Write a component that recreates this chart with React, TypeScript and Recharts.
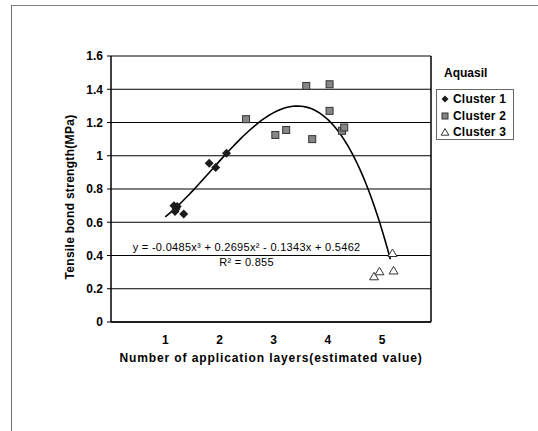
import React from 'react';
import { ScatterChart, Scatter, XAxis, YAxis, CartesianGrid, ReferenceLine, ReferenceDot, Label } from 'recharts';

// Tensile bond strength by number of application layers, three clusters
const cluster1 = [
  { x: 1.16, y: 0.70 },
  { x: 1.18, y: 0.665 },
  { x: 1.20, y: 0.68 },
  { x: 1.22, y: 0.695 },
  { x: 1.34, y: 0.65 },
  { x: 1.81, y: 0.955 },
  { x: 1.93, y: 0.93 },
  { x: 2.13, y: 1.015 },
];

const cluster2 = [
  { x: 2.49, y: 1.22 },
  { x: 3.03, y: 1.125 },
  { x: 3.23, y: 1.155 },
  { x: 3.60, y: 1.42 },
  { x: 3.71, y: 1.10 },
  { x: 4.03, y: 1.43 },
  { x: 4.03, y: 1.27 },
  { x: 4.26, y: 1.15 },
  { x: 4.30, y: 1.17 },
];

const cluster3 = [
  { x: 4.85, y: 0.275 },
  { x: 4.95, y: 0.305 },
  { x: 5.19, y: 0.415 },
  { x: 5.21, y: 0.31 },
];

// cubic fit: x^3, x^2, x, constant
const trendCoefficients = [-0.0485, 0.2695, -0.1343, 0.5462];
const trendRange = [1.0, 5.15];
const equationText = 'y = -0.0485x³ + 0.2695x² - 0.1343x + 0.5462';
const r2Text = 'R² = 0.855';

const xTicks = [1, 2, 3, 4, 5];
const yTicks = [0, 0.2, 0.4, 0.6, 0.8, 1, 1.2, 1.4, 1.6];

const legendItems = ['Cluster 1', 'Cluster 2', 'Cluster 3'];

const trendData: { x: number; y: number }[] = [];
for (let i = 0; ; i++) {
  const x = Math.min(trendRange[0] + i * 0.05, trendRange[1]);
  const [a, b, c, d] = trendCoefficients;
  trendData.push({ x, y: a * x * x * x + b * x * x + c * x + d });
  if (x >= trendRange[1]) break;
}

const font = '"Liberation Sans", Arial, sans-serif';

const Diamond = ({ cx, cy }: any) => (
  <polygon points={`${cx},${cy - 4.5} ${cx + 4.5},${cy} ${cx},${cy + 4.5} ${cx - 4.5},${cy}`} fill="#1c1c1c" />
);
const Square = ({ cx, cy }: any) => (
  <rect x={cx - 3.5} y={cy - 3.5} width={7} height={7} fill="#868686" stroke="#333" strokeWidth={1} />
);
const Triangle = ({ cx, cy }: any) => (
  <polygon points={`${cx},${cy - 4} ${cx + 4.5},${cy + 3.5} ${cx - 4.5},${cy + 3.5}`} fill="#fff" stroke="#333" strokeWidth={1} />
);
const NoDot = () => null;

const legendMarks = [
  <polygon key="d" points="5,1.5 8.5,5 5,8.5 1.5,5" fill="#1c1c1c" />,
  <rect key="s" x={2} y={2} width={6} height={6} fill="#868686" stroke="#333" />,
  <polygon key="t" points="5,1.5 8.8,8.2 1.2,8.2" fill="#fff" stroke="#333" />,
];

const App: React.FC = () => {
  return (
    <div style={{ position: 'absolute', left: 0, top: 0, width: 538, height: 431, background: '#fff', fontFamily: font }}>
      <div style={{ position: 'absolute', left: 11, top: 5, right: 0, bottom: 0, borderTop: '1px solid #808080', borderLeft: '1px solid #707070' }} />
      <ScatterChart width={538} height={431} margin={{ top: 56, right: 107, bottom: 64, left: 51 }}>
        <CartesianGrid vertical={false} stroke="#000" strokeOpacity={1} />
        <XAxis
          type="number"
          dataKey="x"
          domain={[0, 5.9]}
          ticks={xTicks}
          interval={0}
          height={45}
          tickLine={false}
          tickSize={4}
          tickMargin={9}
          axisLine={{ stroke: '#000', strokeWidth: 1.5 }}
          tick={{ fill: '#000', fontSize: 12, fontWeight: 'bold', fontFamily: font }}
        >
          <Label
            value="Number of application layers(estimated value)"
            position="insideBottom"
            offset={5}
            style={{ fill: '#000', fontSize: 12, fontWeight: 'bold', fontFamily: font, letterSpacing: 0.9 }}
          />
        </XAxis>
        <YAxis
          type="number"
          dataKey="y"
          domain={[0, 1.6]}
          ticks={yTicks}
          interval={0}
          width={60}
          tickSize={4}
          tickMargin={4}
          axisLine={{ stroke: '#000', strokeWidth: 1.5 }}
          tickLine={{ stroke: '#000' }}
          tick={{ fill: '#000', fontSize: 12, fontWeight: 'bold', fontFamily: font }}
        >
          <Label
            content={({ viewBox }: any) => {
              const cx = viewBox.x + 19;
              const cy = viewBox.y + viewBox.height / 2 + 8;
              return (
                <text
                  x={cx}
                  y={cy}
                  transform={`rotate(-90 ${cx} ${cy})`}
                  textAnchor="middle"
                  dominantBaseline="central"
                  fill="#000"
                  fontSize={12}
                  fontWeight="bold"
                  fontFamily={font}
                  letterSpacing={0.3}
                >
                  Tensile bond strength(MPa)
                </text>
              );
            }}
          />
        </YAxis>
        <ReferenceLine x={5.9} stroke="#000" strokeWidth={1.5} />
        <Scatter data={trendData} line={{ stroke: '#000', strokeWidth: 1.6 }} lineType="joint" shape={NoDot} isAnimationActive={false} />
        <Scatter data={cluster1} shape={Diamond} isAnimationActive={false} />
        <Scatter data={cluster2} shape={Square} isAnimationActive={false} />
        <Scatter data={cluster3} shape={Triangle} isAnimationActive={false} />
        <ReferenceDot x={2.5} y={0.45} r={0} stroke="none" fill="none"
          label={{ value: equationText, position: 'center', fill: '#000', fontSize: 11, fontFamily: font, letterSpacing: 0.3 }} />
        <ReferenceDot x={2.5} y={0.36} r={0} stroke="none" fill="none"
          label={{ value: r2Text, position: 'center', fill: '#000', fontSize: 11, fontFamily: font, letterSpacing: 0.3 }} />
      </ScatterChart>
      <div style={{ position: 'absolute', left: 444, top: 66, fontSize: 12, fontWeight: 'bold' }}>Aquasil</div>
      <div style={{ position: 'absolute', left: 436, top: 89, width: 78, height: 51, border: '1px solid #666', boxSizing: 'border-box', padding: '1px 0 0 3px' }}>
        {legendItems.map((name, i) => (
          <div key={name} style={{ display: 'flex', alignItems: 'center', height: 16.5, fontSize: 12, fontWeight: 'bold', whiteSpace: 'nowrap', letterSpacing: 0.2 }}>
            <svg width={10} height={10} style={{ marginRight: 3 }}>{legendMarks[i]}</svg>
            {name}
          </div>
        ))}
      </div>
    </div>
  );
};

export default App;
